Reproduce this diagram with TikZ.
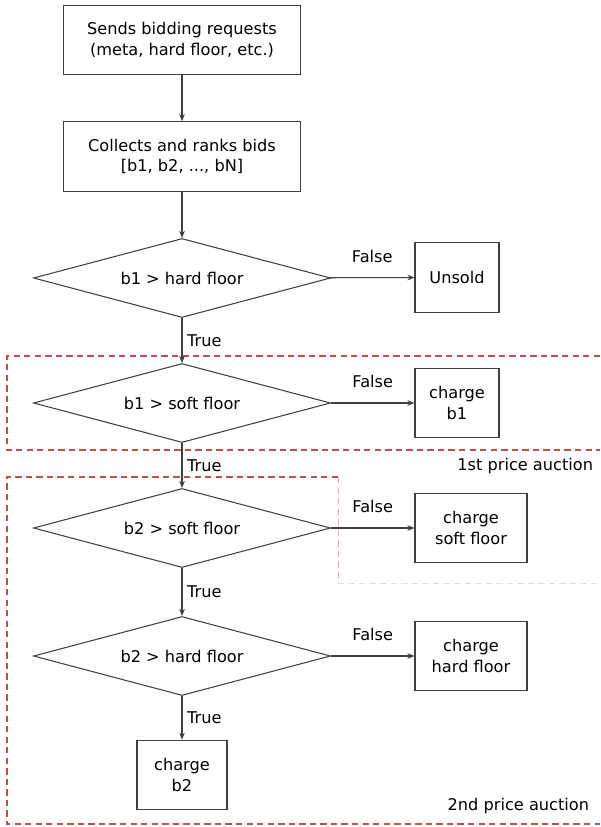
\documentclass[tikz,border=0pt]{standalone}
\usepackage{fontspec}
\setmainfont{DejaVu Sans}
\usetikzlibrary{shapes.geometric,arrows.meta}
\definecolor{linegray}{RGB}{64,64,64}
\definecolor{auctionred}{RGB}{192,80,77}
\tikzset{box/.style={draw=linegray,line width=0.75pt,minimum width=#1,minimum height=1.74cm,align=center,inner sep=1pt},
  test/.style={draw=linegray,line width=0.75pt,diamond,aspect=3.76,minimum width=7.425cm,minimum height=1.975cm,inner sep=0pt},
  flow/.style={->,draw=linegray,line width=0.75pt},
  zone/.style={auctionred,line width=0.9pt,dash pattern=on 4.5pt off 3pt}
}

\begin{document}
\begin{tikzpicture}[x=0.025cm,y=-0.025cm,>={Stealth[length=5pt,width=4pt]},font=\fontsize{11.5}{14.5}\selectfont]
	\useasboundingbox (0,0) rectangle (600,827);
	\draw[zone] (600,356) -- (7,356) -- (7,450) -- (600,450);
	\draw[zone] (338,477) -- (7,477) -- (7,824) -- (600,824);
	\draw[zone,auctionred!45,line width=0.6pt] (338,477) -- (338,583);
	\draw[zone,gray!25,line width=0.6pt] (338,583) -- (600,583);
	\node[box=5.9cm] (send) at (182,40) {Sends bidding requests\\(meta, hard floor, etc.)};
	\node[box=5.9cm] (rank) at (182,156.5) {Collects and ranks bids\\{[b1, b2, ..., bN]}};
	\node[test] (hard1) at (182,278) {b1 > hard floor};
	\node[test] (soft1) at (182,403) {b1 > soft floor};
	\node[test] (soft2) at (182,528) {b2 > soft floor};
	\node[test] (hard2) at (182,656) {b2 > hard floor};
	\node[box=2.1cm] (unsold) at (457,277.5) {Unsold};
	\node[box=2.1cm] (pay1) at (457,403) {charge\\b1};
	\node[box=2.8cm] (paysoft) at (471,528) {charge\\soft floor};
	\node[box=2.8cm] (payhard) at (471,656) {charge\\hard floor};
	\node[box=2.25cm] (pay2) at (182,775) {charge\\b2};
	\node[anchor=east] (first) at (598,466) {1st price auction};
	\node[anchor=east] (second) at (594,806) {2nd price auction};
	\draw[flow] (send) -- (rank);
	\draw[flow] (rank) -- (hard1);
	\draw[flow] (hard1) -- node[above=7pt]{False} (unsold);
	\draw[flow] (hard1) -- node[right]{True} (soft1);
	\draw[flow] (soft1) -- node[above=7pt]{False} (pay1);
	\draw[flow] (soft1) -- node[right]{True} (soft2);
	\draw[flow] (soft2) -- node[above=7pt]{False} (paysoft);
	\draw[flow] (soft2) -- node[right]{True} (hard2);
	\draw[flow] (hard2) -- node[above=7pt]{False} (payhard);
	\draw[flow] (hard2) -- node[right]{True} (pay2);
\end{tikzpicture}
\end{document}
